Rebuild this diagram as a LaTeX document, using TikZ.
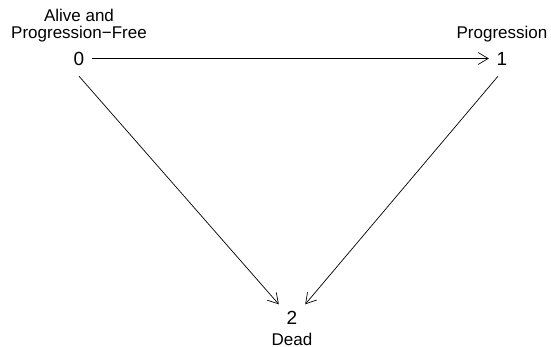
\documentclass[tikz,border=0pt]{standalone}
\usepackage{fontspec}
\setmainfont{Liberation Sans}
\usetikzlibrary{positioning,arrows.meta}

\begin{document}
\begin{tikzpicture}[x=1pt,y=1pt,yscale=-1,
	state/.style={inner sep=0pt,minimum width=26pt,minimum height=35pt,font=\fontsize{19}{19}\selectfont},
	statelabel/.style={inner sep=0pt,align=center,font=\fontsize{17}{17}\selectfont},
	trans/.style={line width=0.7pt,-{Straight Barb[length=10pt,width=12pt,line width=0.7pt]}}]
			\useasboundingbox (0,0) rectangle (551,347);
			
			\node[state] (n0) at (79,58.5) {0};
			\node[state] (n1) at (502,58.5) {1};
			\node[state,minimum height=26pt] (n2) at (292,317.5) {2};
			
			\node[statelabel,above=-1.5pt of n0] (l0) {Alive and\\Progression−Free};
			\node[statelabel,above=-1.5pt of n1] (l1) {Progression};
			\node[statelabel,below=2.5pt of n2] (l2) {Dead};
			
			\draw[trans] (n0.east) -- (n1.west);
			\draw[trans] (n0.south) -- (n2.north west);
			\draw[trans] ([xshift=-4pt]n1.south) -- (n2.north east);
			\end{tikzpicture}
\end{document}
